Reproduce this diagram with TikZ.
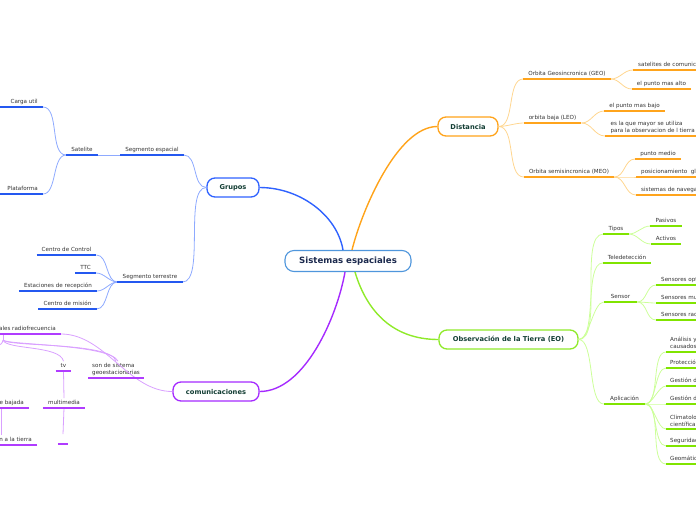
\documentclass[tikz,border=0pt]{standalone}
\usepackage{fontspec}
\setmainfont{DejaVu Sans}
\usetikzlibrary{calc}
\definecolor{txt}{HTML}{333333}
\definecolor{mtxt}{HTML}{123D33}
\definecolor{ctxt}{HTML}{1C2A4E}
\definecolor{cbord}{HTML}{4F96DC}
\definecolor{bmain}{HTML}{2F62FF}
\definecolor{bul}{HTML}{2458F0}
\definecolor{bcon}{HTML}{8EAAFF}
\definecolor{omain}{HTML}{FFA31A}
\definecolor{oul}{HTML}{FFA41C}
\definecolor{ocon}{HTML}{FFD690}
\definecolor{gmain}{HTML}{8FEA2A}
\definecolor{gul}{HTML}{80E400}
\definecolor{gcon}{HTML}{CCFF99}
\definecolor{pmain}{HTML}{A52AFF}
\definecolor{pul}{HTML}{B03CFF}
\definecolor{pcon}{HTML}{D9A0FF}
\tikzset{
  t/.style={font=\fontsize{5.6}{7}\selectfont, text=txt, inner xsep=5pt, inner ysep=2pt, text height=4.2pt, text depth=1.2pt},
  ttwo/.style={font=\fontsize{5.6}{7}\selectfont, text=txt, inner xsep=4pt, inner ysep=2pt, align=left},
  mainbox/.style={draw, fill=white, rounded corners=8pt, line width=1.3pt, font=\fontsize{6.7}{8}\selectfont\bfseries, text=mtxt, minimum height=19pt, inner sep=0pt},
  ulb/.style={bul, line width=1.8pt},
  ulo/.style={oul, line width=1.8pt},
  ulg/.style={gul, line width=1.8pt},
  ulp/.style={pul, line width=1.8pt},
  cb/.style={bcon, line width=0.8pt},
  co/.style={ocon, line width=0.8pt},
  cg/.style={gcon, line width=0.8pt},
  cp/.style={pcon, line width=0.8pt},
  mline/.style={line width=1.4pt},
}
\begin{document}
\begin{tikzpicture}[x=1pt,y=-1pt]
\useasboundingbox (0,0) rectangle (696,520);
\begin{scope}
\clip (0,0) rectangle (696,520);
\coordinate (L) at (-3,0);
\coordinate (Lb) at (1,0);

% main nodes
\node[draw=cbord, fill=white, rounded corners=9pt, line width=1.1pt, minimum width=126pt, minimum height=21pt, inner sep=0pt, font=\fontsize{8.6}{10}\selectfont\bfseries, text=ctxt] (central) at (348,261) {Sistemas espaciales};
\node[mainbox, draw=bmain, minimum width=52pt] (grupos) at (233,187.5) {Grupos};
\node[mainbox, draw=omain, minimum width=60pt] (dist) at (468,126.5) {Distancia};
\node[mainbox, draw=gmain, minimum width=139pt] (obs) at (508.5,339.5) {Observación de la Tierra (EO)};
\node[mainbox, draw=pmain, minimum width=86pt] (comu) at (216,391.5) {comunicaciones};

% main edges
\draw[mline, bmain] (grupos.east) .. controls +(40,0) and +(-6,-35) .. ([xshift=-5pt]central.north);
\draw[mline, omain] ([xshift=4pt]central.north) .. controls +(10,-40) and +(-40,0) .. (dist.west);
\draw[mline, gmain] ([xshift=7pt]central.south) .. controls +(12,40) and +(-45,0) .. (obs.west);
\draw[mline, pmain] ([xshift=-3pt]central.south) .. controls +(-8,45) and +(45,0) .. (comu.east);

% ---------- Grupos (blue)
\node[t, anchor=south, minimum width=60pt] (segesp) at (152,155) {Segmento espacial};
\node[t, anchor=south, minimum width=30pt] (satel) at (82,155) {Satelite};
\node[t, anchor=south east] (carga) at (43,107) {Carga util};
\node[t, anchor=south east] (plat) at (43,194) {Plataforma};
\node[t, anchor=south, minimum width=64pt] (segter) at (150,282) {Segmento terrestre};
\node[t, anchor=south, minimum width=59pt] (cc) at (66.5,255) {Centro de Control};
\node[t, anchor=south, minimum width=21pt] (ttc) at (85.5,273) {TTC};
\node[t, anchor=south, minimum width=76pt] (est) at (58,291) {Estaciones de recepción};
\node[t, anchor=south, minimum width=57pt] (cm) at (67.5,309) {Centro de misión};

\draw[cb] (grupos.west) to[out=180,in=0,looseness=0.9] (segesp.south east);
\draw[cb] (grupos.west) to[out=180,in=0,looseness=0.6] (segter.south east);
\draw[cb] (segesp.south west) -- (satel.south east);
\draw[cb] (satel.south west) to[out=180,in=0,looseness=0.8] (carga.south east);
\draw[cb] (satel.south west) to[out=180,in=0,looseness=0.8] (plat.south east);
\foreach \n in {cc,ttc,est,cm}
  \draw[cb] (segter.south west) to[out=180,in=0,looseness=0.9] (\n.south east);
\foreach \n in {segesp,satel,segter,cc,ttc,est,cm}
  \draw[ulb] (\n.south west) -- (\n.south east);
\draw[ulb] (carga.south east) -- (carga.south east -| L);
\draw[ulb] (plat.south east) -- (plat.south east -| L);

% ---------- Distancia (orange)
\node[t, anchor=south, minimum width=86pt] (geo) at (567,79) {Orbita Geosincronica (GEO)};
\node[t, anchor=south, minimum width=57pt] (leo) at (552.5,123) {orbita baja (LEO)};
\node[t, anchor=south, minimum width=90pt] (meo) at (569,177) {Orbita semisincronica (MEO)};
\node[t, anchor=south west] (geoa) at (633,70) {satelites de comunicaciones};
\node[t, anchor=south, minimum width=57pt] (geob) at (661.5,89) {el punto mas alto};
\node[t, anchor=south, minimum width=59pt] (leoa) at (634.5,111) {el punto mas bajo};
\node[ttwo, anchor=south west, minimum width=95pt] (leob) at (605,136) {es la que mayor se utiliza\\para la observacion de l tierra};
\node[t, anchor=south, minimum width=44pt] (meoa) at (658,159) {punto medio};
\node[t, anchor=south west] (meob) at (636,177) {posicionamiento~ global};
\node[t, anchor=south west] (meoc) at (636,195) {sistemas de navegacion};

\foreach \n in {geo,leo,meo}
  \draw[co] (dist.east) to[out=0,in=180,looseness=0.8] (\n.south west);
\foreach \n in {geoa,geob}
  \draw[co] (geo.south east) to[out=0,in=180] (\n.south west);
\foreach \n in {leoa,leob}
  \draw[co] (leo.south east) to[out=0,in=180] (\n.south west);
\foreach \n in {meoa,meob,meoc}
  \draw[co] (meo.south east) to[out=0,in=180] (\n.south west);
\foreach \n in {geo,leo,meo,geoa,geob,leoa,leob,meoa,meob,meoc}
  \draw[ulo] (\n.south west) -- (\n.south east);

% ---------- Observacion (green)
\node[t, anchor=south, minimum width=24pt] (tipos) at (616,234) {Tipos};
\node[t, anchor=south, minimum width=30pt] (pas) at (666,226) {Pasivos};
\node[t, anchor=south, minimum width=30pt] (act) at (666,244) {Activos};
\node[t, anchor=south, minimum width=46pt] (tele) at (627,263) {Teledetección};
\node[t, anchor=south, minimum width=33pt] (sensor) at (620.5,302) {Sensor};
\node[t, anchor=south west] (sa) at (656,285) {Sensores opticos};
\node[t, anchor=south west] (sb) at (656,303) {Sensores multiespectrales};
\node[t, anchor=south west] (sc) at (656,320) {Sensores radar};
\node[t, anchor=south, minimum width=41pt] (aplic) at (624.5,404) {Aplicación};
\node[ttwo, anchor=south west] (aa) at (666,352) {Análisis y gestión de daños\\causados por desastres};
\node[t, anchor=south west, inner xsep=4pt] (ab) at (666,368) {Protección civil};
\node[t, anchor=south west, inner xsep=4pt] (ac) at (666,386) {Gestión de emergencias};
\node[t, anchor=south west, inner xsep=4pt] (ad) at (666,404) {Gestión del territorio};
\node[ttwo, anchor=south west] (ae) at (666,429) {Climatología e investigación\\científica};
\node[t, anchor=south west, inner xsep=4pt] (af) at (666,446) {Seguridad y defensa};
\node[t, anchor=south west, inner xsep=4pt] (ag) at (666,464) {Geomática};

\foreach \n in {tipos,tele,sensor,aplic}
  \draw[cg] (obs.east) to[out=0,in=180,looseness=0.6] (\n.south west);
\foreach \n in {pas,act}
  \draw[cg] (tipos.south east) to[out=0,in=180] (\n.south west);
\foreach \n in {sa,sb,sc}
  \draw[cg] (sensor.south east) to[out=0,in=180] (\n.south west);
\foreach \n in {aa,ab,ac,ad,ae,af,ag}
  \draw[cg] (aplic.south east) to[out=0,in=180,looseness=0.7] (\n.south west);
\foreach \n in {tipos,pas,act,tele,sensor,sa,sb,sc,aplic,aa,ab,ac,ad,ae,af,ag}
  \draw[ulg] (\n.south west) -- (\n.south east);

% ---------- comunicaciones (purple)
\node[t, anchor=south east] (radio) at (61,334) {Señales radiofrecuencia};
\node[ttwo, anchor=south west, minimum width=55pt] (geoest) at (88,378) {son de sistema\\geoestacionarias};
\node[t, anchor=south, minimum width=15pt] (tv) at (63.5,371) {tv};
\node[t, anchor=south, minimum width=40pt] (multi) at (64,408) {multimedia};
\node[t, anchor=south, minimum width=8pt] (empty) at (63,444) {};
\node[t, anchor=south east] (bajada) at (29,408) {Enlace de bajada};
\node[t, anchor=south east] (tierra) at (37,445) {Transmisión a la tierra};
\coordinate (rt) at (3,334);
\coordinate (rb) at (3,340);
\coordinate (rl) at (-6,347);

\draw[cp] (comu.west) to[out=180,in=0,looseness=0.9] (radio.south east);
\draw[cp] (rt) -- (rb);
\draw[cp] (rb) .. controls (6,350) and (60,345) .. (tv.north);
\draw[cp] (rb) .. controls (8,347) and (112,342) .. (geoest.north);
\draw[cp] (rb) .. controls (6,345) and (110,344) .. ([xshift=2pt]geoest.north);
\draw[cp] (rb) .. controls (2,344) .. (rl);
\draw[cp] (tv.south) -- (multi.north);
\draw[cp] (multi.south) -- (empty.north);
\draw[cp] (bajada.south -| Lb) -- (tierra.north -| Lb);
\foreach \n in {geoest,tv,multi,empty}
  \draw[ulp] (\n.south west) -- (\n.south east);
\draw[ulp] (radio.south east) -- (radio.south east -| L);
\draw[ulp] (bajada.south east) -- (bajada.south east -| L);
\draw[ulp] (tierra.south east) -- (tierra.south east -| L);
\end{scope}
\end{tikzpicture}
\end{document}
